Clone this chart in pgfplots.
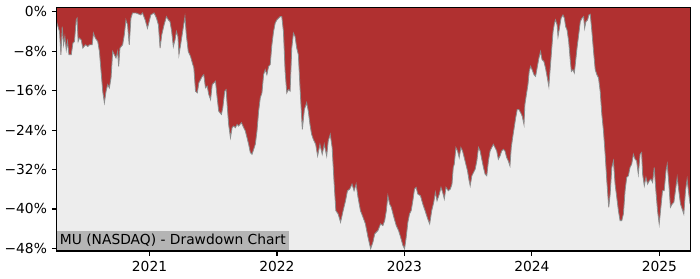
\documentclass[border=0pt]{standalone}
\usepackage{pgfplots}
\pgfplotsset{compat=1.18}
\usepackage{pgfplotstable}
\usepgfplotslibrary{fillbetween}
\usetikzlibrary{calc}
\usepackage{fontspec}
\setmainfont{DejaVu Sans}
\definecolor{ddred}{RGB}{176,48,48}
\definecolor{bggray}{RGB}{237,237,237}
\definecolor{boxgray}{RGB}{180,180,180}
\definecolor{edgegray}{RGB}{140,140,140}

\pgfplotstableread{
x y
2020.271 -2.0
2020.294 -4.0
2020.305 -8.7
2020.315 -3.0
2020.326 -6.67
2020.336 -4.99
2020.347 -7.68
2020.357 -6.0
2020.368 -8.69
2020.386 -8.69
2020.399 -6.32
2020.411 -6.0
2020.425 -1.62
2020.432 -1.27
2020.440 -6.0
2020.450 -5.31
2020.464 -5.66
2020.477 -7.33
2020.497 -6.67
2020.516 -7.01
2020.529 -6.67
2020.550 -6.67
2020.560 -4.30
2020.575 -5.31
2020.594 -6.0
2020.607 -8.02
2020.620 -12.06
2020.633 -16.10
2020.646 -18.44
2020.659 -16.10
2020.672 -14.75
2020.685 -15.41
2020.698 -13.39
2020.711 -8.02
2020.724 -8.69
2020.737 -9.35
2020.750 -8.02
2020.758 -11.05
2020.768 -7.33
2020.789 -6.67
2020.802 -4.65
2020.815 -1.62
2020.828 -2.63
2020.841 -6.67
2020.854 -1.27
2020.867 -0.2
2020.893 -0.2
2020.932 -0.61
2020.945 -0.2
2020.966 -1.62
2020.984 -3.29
2020.997 -1.96
2021.010 -0.61
2021.036 -0.2
2021.055 -1.27
2021.070 -2.63
2021.083 -7.33
2021.096 -4.65
2021.114 -2.63
2021.133 -0.95
2021.148 -1.62
2021.161 -1.96
2021.174 -3.98
2021.187 -7.01
2021.200 -5.66
2021.211 -3.98
2021.223 -4.99
2021.231 -8.69
2021.244 -6.67
2021.258 -4.30
2021.270 -2.28
2021.278 -0.95
2021.289 -4.65
2021.304 -8.02
2021.322 -9.03
2021.336 -10.36
2021.348 -11.37
2021.361 -16.10
2021.375 -16.42
2021.387 -14.40
2021.400 -13.74
2021.414 -13.07
2021.426 -12.73
2021.439 -15.41
2021.453 -15.09
2021.465 -16.77
2021.479 -17.78
2021.492 -14.75
2021.518 -14.08
2021.531 -17.43
2021.543 -20.14
2021.564 -20.81
2021.575 -19.45
2021.590 -16.10
2021.601 -15.76
2021.611 -19.45
2021.621 -22.83
2021.635 -25.51
2021.648 -23.49
2021.660 -23.17
2021.674 -23.49
2021.687 -22.83
2021.699 -23.17
2021.721 -22.48
2021.739 -23.49
2021.752 -24.18
2021.765 -25.51
2021.778 -26.87
2021.791 -28.54
2021.804 -28.89
2021.817 -27.88
2021.830 -26.87
2021.843 -24.18
2021.856 -20.14
2021.869 -17.43
2021.882 -16.42
2021.895 -12.73
2021.908 -11.72
2021.921 -12.73
2021.934 -11.05
2021.947 -10.71
2021.960 -6.67
2021.973 -3.98
2021.986 -2.28
2021.999 -1.62
2022.012 -1.27
2022.025 -0.95
2022.038 -0.95
2022.051 -3.98
2022.064 -12.06
2022.077 -16.42
2022.090 -15.76
2022.103 -16.10
2022.116 -7.33
2022.129 -4.30
2022.142 -4.99
2022.155 -7.33
2022.168 -8.69
2022.181 -15.41
2022.199 -23.84
2022.215 -19.80
2022.233 -18.44
2022.246 -20.14
2022.259 -22.83
2022.272 -24.85
2022.285 -25.86
2022.304 -26.87
2022.319 -29.23
2022.337 -26.87
2022.355 -28.89
2022.371 -26.87
2022.390 -29.23
2022.402 -26.20
2022.418 -24.85
2022.433 -27.53
2022.449 -34.95
2022.462 -40.34
2022.480 -41.01
2022.499 -42.68
2022.519 -40.34
2022.538 -38.32
2022.553 -36.30
2022.571 -35.96
2022.589 -34.95
2022.605 -36.30
2022.621 -34.95
2022.636 -37.63
2022.655 -40.34
2022.675 -41.67
2022.694 -43.03
2022.714 -45.71
2022.735 -48.08
2022.753 -46.72
2022.767 -45.05
2022.792 -44.38
2022.813 -43.03
2022.831 -43.37
2022.845 -42.36
2022.858 -40.34
2022.870 -37.31
2022.884 -38.99
2022.897 -39.65
2022.917 -41.67
2022.936 -43.37
2022.954 -44.38
2022.970 -45.71
2022.988 -47.41
2023.001 -48.08
2023.014 -45.71
2023.027 -42.68
2023.040 -41.01
2023.053 -40.34
2023.066 -38.32
2023.079 -35.96
2023.092 -35.61
2023.105 -36.97
2023.126 -37.31
2023.144 -38.99
2023.162 -40.34
2023.183 -42.02
2023.198 -43.03
2023.214 -40.34
2023.230 -38.64
2023.243 -36.62
2023.256 -38.32
2023.274 -36.97
2023.287 -35.61
2023.300 -36.62
2023.313 -37.98
2023.326 -35.61
2023.344 -36.30
2023.360 -35.96
2023.373 -34.95
2023.383 -31.57
2023.391 -30.91
2023.404 -27.53
2023.417 -28.22
2023.430 -29.55
2023.443 -27.53
2023.456 -28.22
2023.469 -29.55
2023.482 -30.91
2023.495 -32.26
2023.508 -34.28
2023.516 -35.29
2023.529 -33.27
2023.542 -32.58
2023.555 -31.92
2023.568 -30.24
2023.581 -27.53
2023.594 -28.22
2023.607 -29.90
2023.620 -31.57
2023.633 -32.93
2023.646 -33.27
2023.659 -30.24
2023.672 -28.22
2023.685 -27.53
2023.698 -26.87
2023.711 -27.53
2023.724 -28.22
2023.737 -29.90
2023.750 -29.23
2023.763 -28.22
2023.776 -27.88
2023.789 -28.22
2023.802 -29.55
2023.815 -30.24
2023.828 -31.25
2023.838 -27.53
2023.849 -25.51
2023.859 -23.84
2023.873 -21.47
2023.885 -19.80
2023.898 -19.80
2023.912 -20.46
2023.924 -21.15
2023.938 -22.83
2023.945 -18.79
2023.959 -16.42
2023.969 -14.75
2023.979 -12.06
2023.990 -11.05
2024.002 -11.72
2024.016 -12.73
2024.029 -13.07
2024.041 -11.37
2024.055 -9.35
2024.068 -8.02
2024.080 -9.70
2024.094 -10.04
2024.107 -11.37
2024.119 -13.07
2024.133 -15.09
2024.146 -10.71
2024.158 -6.67
2024.166 -3.98
2024.177 -2.28
2024.185 -1.62
2024.198 -2.63
2024.205 -4.99
2024.216 -3.29
2024.229 -1.27
2024.244 -0.61
2024.255 -1.27
2024.265 -2.97
2024.276 -3.64
2024.289 -6.0
2024.302 -10.04
2024.310 -12.06
2024.322 -11.72
2024.333 -12.38
2024.343 -10.04
2024.354 -7.33
2024.367 -4.65
2024.380 -1.96
2024.393 -1.27
2024.406 -0.95
2024.414 -3.29
2024.424 -1.96
2024.437 -1.62
2024.447 -0.61
2024.458 -0.46
2024.471 -3.98
2024.484 -8.02
2024.497 -11.72
2024.510 -12.73
2024.523 -13.39
2024.536 -16.10
2024.549 -20.81
2024.562 -24.18
2024.575 -28.89
2024.588 -34.28
2024.603 -39.65
2024.614 -36.97
2024.627 -31.57
2024.640 -30.24
2024.653 -34.95
2024.666 -37.63
2024.679 -40.34
2024.692 -42.36
2024.705 -42.36
2024.718 -41.01
2024.731 -36.30
2024.744 -33.59
2024.757 -33.27
2024.770 -31.57
2024.783 -30.91
2024.796 -28.89
2024.810 -29.90
2024.822 -30.24
2024.835 -32.93
2024.849 -28.89
2024.861 -28.54
2024.869 -32.93
2024.882 -35.29
2024.895 -33.59
2024.908 -34.95
2024.921 -34.28
2024.934 -33.94
2024.947 -34.60
2024.960 -31.57
2024.973 -36.30
2024.986 -40.34
2024.999 -43.03
2025.012 -39.65
2025.025 -36.30
2025.038 -36.30
2025.052 -32.26
2025.062 -30.91
2025.075 -34.95
2025.087 -39.65
2025.101 -38.99
2025.114 -38.64
2025.126 -36.30
2025.140 -33.59
2025.153 -36.30
2025.166 -38.99
2025.179 -40.00
2025.192 -41.01
2025.205 -36.30
2025.218 -33.94
2025.228 -36.30
2025.241 -38.99
}\dd

\begin{document}
\begin{tikzpicture}
\begin{axis}[
  scale only axis,
  width=458.4pt, height=176.4pt,
  xmin=2020.271, xmax=2025.241,
  ymin=-48.54, ymax=0.95,
  axis background/.style={fill=bggray},
  xtick={2021,2022,2023,2024,2025},
  xticklabels={2021,2022,2023,2024,2025},
  ytick={-48,-40,-32,-24,-16,-8,0},
  yticklabels={−48\%,−40\%,−32\%,−24\%,−16\%,−8\%,0\%},
  tick align=outside, tick pos=left,
  major tick length=3.5pt,
  tick style={black, line width=0.8pt},
  axis line style={black, line width=0.8pt},
  ticklabel style={font=\fontsize{10}{12}\selectfont, black},
  axis on top,
]
\addplot[draw=none, name path=top, forget plot] coordinates {(2020.271,0.95) (2025.241,0.95)};
\addplot[draw=none, name path=dd, forget plot] table[x=x, y=y] {\dd};
\addplot[fill=ddred, draw=none, forget plot] fill between[of=top and dd];
\addplot[edgegray, line width=0.6pt, forget plot] table[x=x, y=y] {\dd};
\node[anchor=south west, fill=boxgray, inner xsep=2.2pt, inner ysep=2.2pt, yshift=0.8pt,
  font=\fontsize{10}{12}\selectfont] at (rel axis cs:0,0) {MU (NASDAQ) - Drawdown Chart};
\end{axis}
\path ($(current axis.south west)+(-38.4pt,-19.9pt)$) rectangle ($(current axis.north east)+(7.2pt,5.26pt)$);
\end{tikzpicture}
\end{document}
